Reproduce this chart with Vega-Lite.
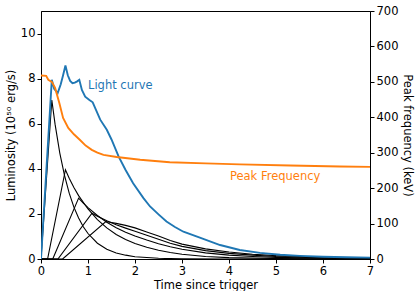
{
  "$schema": "https://vega.github.io/schema/vega-lite/v6.json",
  "width": 329,
  "height": 248,
  "autosize": {"type": "none"},
  "padding": {"left": 41, "top": 11, "right": 45, "bottom": 32},
  "background": "white",
  "config": {
    "view": {"stroke": "black", "strokeWidth": 1},
    "font": "DejaVu Sans",
    "axis": {
      "domainColor": "black", "tickColor": "black", "labelColor": "black", "titleColor": "black",
      "labelFontSize": 11.5, "titleFontSize": 11.5, "titleFontWeight": "normal",
      "labelFont": "DejaVu Sans", "titleFont": "DejaVu Sans",
      "tickSize": 4, "labelPadding": 2, "grid": false, "labelFlush": false, "labelOverlap": false,
      "domainWidth": 1, "tickWidth": 1
    }
  },
  "datasets": {
    "pulses": [
      {"pulse": 1, "t": 0, "L": 0}, {"pulse": 1, "t": 0.23, "L": 7.05}, {"pulse": 1, "t": 0.3, "L": 5.97}, {"pulse": 1, "t": 0.4, "L": 4.7}, {"pulse": 1, "t": 0.5, "L": 3.71}, {"pulse": 1, "t": 0.6, "L": 2.92}, {"pulse": 1, "t": 0.7, "L": 2.3}, {"pulse": 1, "t": 0.8, "L": 1.82}, {"pulse": 1, "t": 0.9, "L": 1.43}, {"pulse": 1, "t": 1.0, "L": 1.13}, {"pulse": 1, "t": 1.2, "L": 0.7}, {"pulse": 1, "t": 1.4, "L": 0.43}, {"pulse": 1, "t": 1.6, "L": 0.27}, {"pulse": 1, "t": 1.8, "L": 0.17}, {"pulse": 1, "t": 2.0, "L": 0.1}, {"pulse": 1, "t": 2.5, "L": 0.03}, {"pulse": 1, "t": 3.0, "L": 0.01}, {"pulse": 1, "t": 4.0, "L": 0}, {"pulse": 1, "t": 7.0, "L": 0},
      {"pulse": 2, "t": 0, "L": 0}, {"pulse": 2, "t": 0.14, "L": 0}, {"pulse": 2, "t": 0.52, "L": 3.96}, {"pulse": 2, "t": 0.6, "L": 3.58}, {"pulse": 2, "t": 0.7, "L": 3.17}, {"pulse": 2, "t": 0.8, "L": 2.81}, {"pulse": 2, "t": 1.0, "L": 2.22}, {"pulse": 2, "t": 1.2, "L": 1.75}, {"pulse": 2, "t": 1.4, "L": 1.38}, {"pulse": 2, "t": 1.6, "L": 1.09}, {"pulse": 2, "t": 1.8, "L": 0.87}, {"pulse": 2, "t": 2.0, "L": 0.69}, {"pulse": 2, "t": 2.25, "L": 0.52}, {"pulse": 2, "t": 2.5, "L": 0.39}, {"pulse": 2, "t": 2.75, "L": 0.29}, {"pulse": 2, "t": 3.0, "L": 0.21}, {"pulse": 2, "t": 3.5, "L": 0.11}, {"pulse": 2, "t": 4.0, "L": 0.06}, {"pulse": 2, "t": 5.0, "L": 0.02}, {"pulse": 2, "t": 7.0, "L": 0},
      {"pulse": 3, "t": 0, "L": 0}, {"pulse": 3, "t": 0.25, "L": 0}, {"pulse": 3, "t": 0.8, "L": 2.7}, {"pulse": 3, "t": 0.9, "L": 2.48}, {"pulse": 3, "t": 1.0, "L": 2.28}, {"pulse": 3, "t": 1.2, "L": 1.93}, {"pulse": 3, "t": 1.4, "L": 1.63}, {"pulse": 3, "t": 1.6, "L": 1.39}, {"pulse": 3, "t": 1.8, "L": 1.19}, {"pulse": 3, "t": 2.0, "L": 1.02}, {"pulse": 3, "t": 2.25, "L": 0.84}, {"pulse": 3, "t": 2.5, "L": 0.68}, {"pulse": 3, "t": 2.75, "L": 0.54}, {"pulse": 3, "t": 3.0, "L": 0.43}, {"pulse": 3, "t": 3.5, "L": 0.27}, {"pulse": 3, "t": 4.0, "L": 0.17}, {"pulse": 3, "t": 4.5, "L": 0.11}, {"pulse": 3, "t": 5.0, "L": 0.07}, {"pulse": 3, "t": 6.0, "L": 0.03}, {"pulse": 3, "t": 7.0, "L": 0.01},
      {"pulse": 4, "t": 0, "L": 0}, {"pulse": 4, "t": 0.36, "L": 0}, {"pulse": 4, "t": 1.085, "L": 2.03}, {"pulse": 4, "t": 1.2, "L": 1.9}, {"pulse": 4, "t": 1.4, "L": 1.7}, {"pulse": 4, "t": 1.6, "L": 1.52}, {"pulse": 4, "t": 1.8, "L": 1.37}, {"pulse": 4, "t": 2.0, "L": 1.23}, {"pulse": 4, "t": 2.25, "L": 1.05}, {"pulse": 4, "t": 2.5, "L": 0.88}, {"pulse": 4, "t": 2.75, "L": 0.7}, {"pulse": 4, "t": 3.0, "L": 0.56}, {"pulse": 4, "t": 3.5, "L": 0.37}, {"pulse": 4, "t": 4.0, "L": 0.25}, {"pulse": 4, "t": 4.5, "L": 0.17}, {"pulse": 4, "t": 5.0, "L": 0.11}, {"pulse": 4, "t": 6.0, "L": 0.05}, {"pulse": 4, "t": 7.0, "L": 0.025},
      {"pulse": 5, "t": 0, "L": 0}, {"pulse": 5, "t": 0.46, "L": 0}, {"pulse": 5, "t": 1.38, "L": 1.66}, {"pulse": 5, "t": 1.6, "L": 1.58}, {"pulse": 5, "t": 1.8, "L": 1.49}, {"pulse": 5, "t": 2.0, "L": 1.38}, {"pulse": 5, "t": 2.25, "L": 1.2}, {"pulse": 5, "t": 2.5, "L": 1.02}, {"pulse": 5, "t": 2.75, "L": 0.82}, {"pulse": 5, "t": 3.0, "L": 0.66}, {"pulse": 5, "t": 3.5, "L": 0.45}, {"pulse": 5, "t": 4.0, "L": 0.31}, {"pulse": 5, "t": 4.5, "L": 0.21}, {"pulse": 5, "t": 5.0, "L": 0.15}, {"pulse": 5, "t": 6.0, "L": 0.08}, {"pulse": 5, "t": 7.0, "L": 0.04}
    ],
    "light": [
      {"t": 0, "L": 0}, {"t": 0.23, "L": 7.95}, {"t": 0.28, "L": 7.55}, {"t": 0.355, "L": 7.36}, {"t": 0.42, "L": 7.75}, {"t": 0.47, "L": 8.15}, {"t": 0.52, "L": 8.58}, {"t": 0.57, "L": 8.15}, {"t": 0.62, "L": 7.9}, {"t": 0.67, "L": 7.8}, {"t": 0.72, "L": 7.82}, {"t": 0.77, "L": 7.88}, {"t": 0.815, "L": 7.95}, {"t": 0.87, "L": 7.5}, {"t": 0.94, "L": 7.2}, {"t": 1.03, "L": 7.05}, {"t": 1.1, "L": 6.95}, {"t": 1.26, "L": 6.18}, {"t": 1.4, "L": 5.73}, {"t": 1.5, "L": 5.3}, {"t": 1.65, "L": 4.55}, {"t": 1.8, "L": 3.95}, {"t": 1.96, "L": 3.36}, {"t": 2.18, "L": 2.7}, {"t": 2.32, "L": 2.33}, {"t": 2.5, "L": 1.98}, {"t": 2.67, "L": 1.66}, {"t": 2.85, "L": 1.42}, {"t": 3.03, "L": 1.21}, {"t": 3.38, "L": 0.95}, {"t": 3.81, "L": 0.62}, {"t": 4.23, "L": 0.4}, {"t": 4.66, "L": 0.27}, {"t": 5.09, "L": 0.19}, {"t": 5.51, "L": 0.14}, {"t": 6.0, "L": 0.1}, {"t": 6.5, "L": 0.08}, {"t": 7.0, "L": 0.06}
    ],
    "peak": [
      {"t": 0, "E": 518}, {"t": 0.11, "E": 517}, {"t": 0.155, "E": 506}, {"t": 0.23, "E": 500}, {"t": 0.3, "E": 483}, {"t": 0.39, "E": 440}, {"t": 0.47, "E": 398}, {"t": 0.58, "E": 370}, {"t": 0.7, "E": 352}, {"t": 0.83, "E": 336}, {"t": 0.95, "E": 320}, {"t": 1.08, "E": 308}, {"t": 1.2, "E": 300}, {"t": 1.33, "E": 294}, {"t": 1.61, "E": 288}, {"t": 2.11, "E": 280}, {"t": 2.74, "E": 273}, {"t": 3.5, "E": 270}, {"t": 4.23, "E": 267}, {"t": 5.3, "E": 264}, {"t": 6.36, "E": 261}, {"t": 7.0, "E": 260}
    ],
    "lightLabel": [{"t": 1.0, "L": 7.69, "label": "Light curve"}],
    "peakLabel": [{"t": 4.02, "L": 3.64, "label": "Peak Frequency"}]
  },
  "layer": [
    {
      "layer": [
        {
          "data": {"name": "pulses"},
          "mark": {"type": "line", "color": "black", "strokeWidth": 1.1, "clip": true},
          "encoding": {
            "x": {"field": "t", "type": "quantitative", "scale": {"domain": [0, 7], "nice": false}, "axis": {"title": "Time since trigger", "values": [0, 1, 2, 3, 4, 5, 6, 7], "titlePadding": 3}},
            "y": {"field": "L", "type": "quantitative", "scale": {"domain": [0, 11], "nice": false}, "axis": {"title": "Luminosity (10⁵⁰ erg/s)", "values": [0, 2, 4, 6, 8, 10], "titlePadding": 4}},
            "detail": {"field": "pulse", "type": "nominal"}
          }
        },
        {
          "data": {"name": "light"},
          "mark": {"type": "line", "color": "#1f77b4", "strokeWidth": 1.9, "clip": true},
          "encoding": {
            "x": {"field": "t", "type": "quantitative"},
            "y": {"field": "L", "type": "quantitative"}
          }
        },
        {
          "data": {"name": "lightLabel"},
          "mark": {"type": "text", "color": "#1f77b4", "fontSize": 11.5, "align": "left", "baseline": "middle", "font": "DejaVu Sans"},
          "encoding": {
            "x": {"field": "t", "type": "quantitative"},
            "y": {"field": "L", "type": "quantitative"},
            "text": {"field": "label"}
          }
        },
        {
          "data": {"name": "peakLabel"},
          "mark": {"type": "text", "color": "#ff7f0e", "fontSize": 11.5, "align": "left", "baseline": "middle", "font": "DejaVu Sans"},
          "encoding": {
            "x": {"field": "t", "type": "quantitative"},
            "y": {"field": "L", "type": "quantitative"},
            "text": {"field": "label"}
          }
        }
      ]
    },
    {
      "data": {"name": "peak"},
      "mark": {"type": "line", "color": "#ff7f0e", "strokeWidth": 1.9, "clip": true},
      "encoding": {
        "x": {"field": "t", "type": "quantitative"},
        "y": {"field": "E", "type": "quantitative", "scale": {"domain": [0, 700], "nice": false}, "axis": {"orient": "right", "title": "Peak frequency (keV)", "values": [0, 100, 200, 300, 400, 500, 600, 700], "titlePadding": 4}}
      }
    }
  ],
  "resolve": {"scale": {"y": "independent"}}
}
